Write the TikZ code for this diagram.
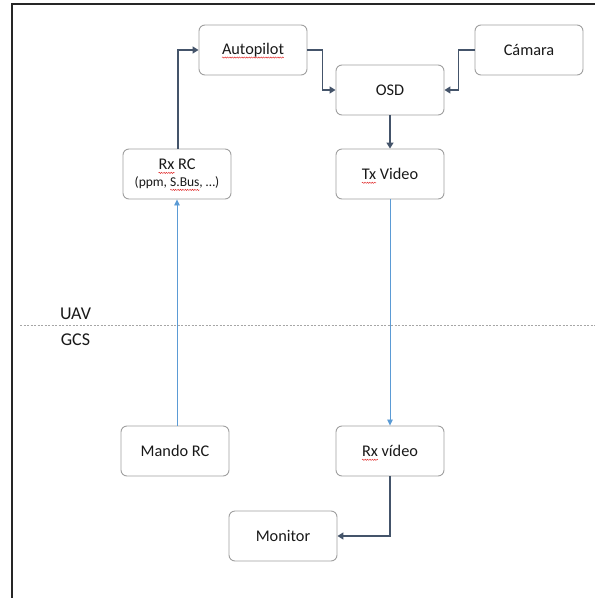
\documentclass[tikz,border=0pt]{standalone}
\usepackage{fontspec}
\setmainfont{Carlito}
\usetikzlibrary{arrows.meta,decorations.pathmorphing}
\definecolor{boxline}{RGB}{160,160,160}
\definecolor{darkflow}{RGB}{68,84,106}
\definecolor{radioflow}{RGB}{91,155,213}
\definecolor{spellred}{RGB}{225,40,40}
% red wavy spell-check underline below a word
\newsavebox\spellbox
\newcommand\spellmark[1]{\sbox\spellbox{#1}\rlap{\tikz[overlay,x=1pt,y=1pt,baseline=0pt,sharp corners]
  \draw[spellred,line width=0.45pt,sharp corners,decorate,decoration={snake,amplitude=0.6pt,segment length=2.4pt}]
  (0pt,-3.2pt) -- (\the\wd\spellbox,-3.2pt);}\usebox\spellbox}
\tikzset{
  block/.style={draw=boxline, line width=0.9pt, rounded corners=6pt, fill=white,
    minimum width=108pt, minimum height=50pt, inner sep=0pt, align=center,
    font=\fontsize{16.3}{18}\selectfont, text=black!90},
  wire/.style={draw=darkflow, line width=1.4pt, -{Triangle[length=6pt,width=7pt]}},
  radio/.style={draw=radioflow, line width=0.8pt, -{Triangle[length=6pt,width=5.5pt]}},
  zone/.style={font=\fontsize{18}{20}\selectfont, text=black!90, anchor=base}
}
\begin{document}
\begin{tikzpicture}[x=1pt,y=-1pt]
\useasboundingbox (0,0) rectangle (595,598);
\fill[white] (0,0) rectangle (595,598);
% outer frame
\draw[black!85, line width=1.5pt] (12,598) -- (12,4) -- (595,4);

% air segment
\node[block] (autopilot) at (253,50) {\spellmark{Autopilot}};
\node[block] (camara) at (529,50) {Cámara};
\node[block] (osd) at (390,90) {OSD};
\node[block] (rxrc) at (177,174) {\spellmark{Rx} RC\\[-1pt]{\fontsize{13.5}{15}\selectfont (ppm, \spellmark{S.Bus}, …)}};
\node[block] (txvideo) at (390,174) {\spellmark{Tx} Video};

% ground segment
\node[block] (mando) at (175,451) {Mando RC};
\node[block] (rxvideo) at (390,451) {\spellmark{Rx} vídeo};
\node[block] (monitor) at (283,536) {Monitor};

% UAV / GCS boundary
\draw[black!35, line width=0.7pt, dash pattern=on 2pt off 1.5pt] (20,325) -- (595,325);
\node[zone] (uav) at (75.5,319) {UAV};
\node[zone] (gcs) at (75.5,345) {GCS};

% wired links
\draw[wire] (rxrc.north -| 178,0) |- (autopilot.west);
\draw[wire] (autopilot.east) -- ++(15,0) |- (osd.west);
\draw[wire] (camara.west) -- ++(-16,0) |- (osd.east);
\draw[wire] (osd.south) -- (txvideo.north);
\draw[wire] (rxvideo.south) |- (monitor.east);

% radio links
\draw[radio] (mando.north -| rxrc.south) -- (rxrc.south);
\draw[radio] (txvideo.south) -- (rxvideo.north);
\end{tikzpicture}
\end{document}
